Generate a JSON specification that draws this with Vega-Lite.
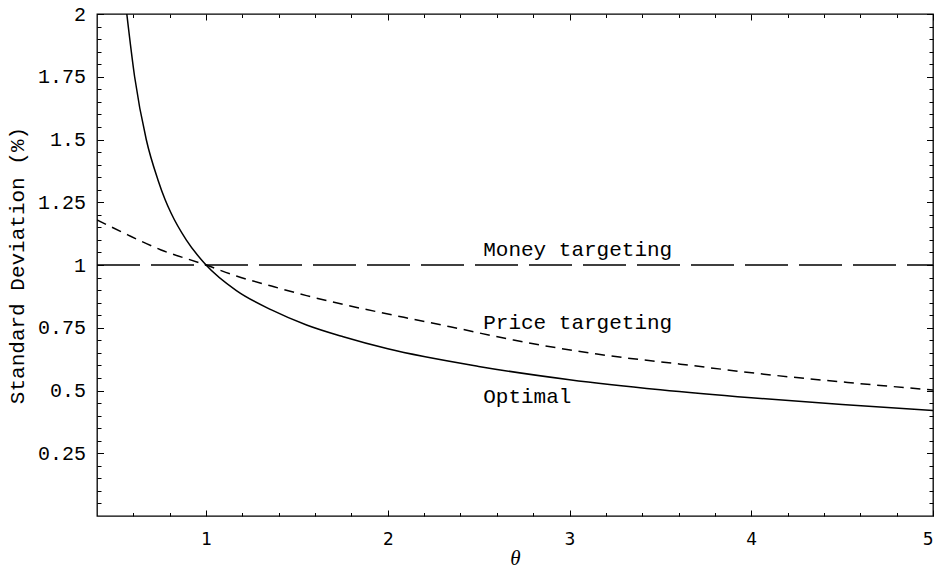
{
  "$schema": "https://vega.github.io/schema/vega-lite/v6.json",
  "autosize": {"type": "none"},
  "padding": {"left": 97, "top": 14, "right": 8, "bottom": 55},
  "width": 836,
  "height": 502,
  "background": "white",
  "config": {
    "view": {"stroke": "black", "strokeWidth": 1.3},
    "axis": {"grid": false, "domain": false, "tickColor": "black", "tickWidth": 1, "labelColor": "black", "titleColor": "black"}
  },
  "datasets": {
    "optimal": [
      {"theta": 0.564, "sd": 2.0},
      {"theta": 0.607, "sd": 1.75},
      {"theta": 0.671, "sd": 1.5},
      {"theta": 0.735, "sd": 1.34},
      {"theta": 0.775, "sd": 1.26},
      {"theta": 0.808, "sd": 1.206},
      {"theta": 0.891, "sd": 1.1},
      {"theta": 1.0, "sd": 1.0},
      {"theta": 1.167, "sd": 0.898},
      {"theta": 1.36, "sd": 0.821},
      {"theta": 1.553, "sd": 0.761},
      {"theta": 1.755, "sd": 0.714},
      {"theta": 2.0, "sd": 0.666},
      {"theta": 2.5, "sd": 0.596},
      {"theta": 3.0, "sd": 0.543},
      {"theta": 3.5, "sd": 0.503},
      {"theta": 4.0, "sd": 0.471},
      {"theta": 4.5, "sd": 0.444},
      {"theta": 5.0, "sd": 0.42}
    ],
    "price": [
      {"theta": 0.4, "sd": 1.18},
      {"theta": 0.569, "sd": 1.12},
      {"theta": 0.753, "sd": 1.06},
      {"theta": 1.0, "sd": 1.0},
      {"theta": 1.167, "sd": 0.956},
      {"theta": 1.36, "sd": 0.916},
      {"theta": 1.553, "sd": 0.878},
      {"theta": 1.755, "sd": 0.843},
      {"theta": 1.939, "sd": 0.814},
      {"theta": 2.14, "sd": 0.784},
      {"theta": 2.343, "sd": 0.754},
      {"theta": 2.692, "sd": 0.701},
      {"theta": 3.151, "sd": 0.645},
      {"theta": 3.61, "sd": 0.605},
      {"theta": 4.07, "sd": 0.565},
      {"theta": 4.53, "sd": 0.532},
      {"theta": 5.0, "sd": 0.502}
    ],
    "money": [
      {"theta": 0.4, "sd": 1.0},
      {"theta": 5.0, "sd": 1.0}
    ],
    "labels": [
      {"theta": 2.525, "sd": 1.06, "text": "Money targeting"},
      {"theta": 2.525, "sd": 0.77, "text": "Price targeting"},
      {"theta": 2.525, "sd": 0.475, "text": "Optimal"}
    ]
  },
  "resolve": {"axis": {"x": "independent", "y": "independent"}},
  "layer": [
    {
      "data": {"name": "optimal"},
      "mark": {"type": "line", "color": "black", "strokeWidth": 1.5, "clip": true, "interpolate": "monotone"},
      "encoding": {
        "x": {"field": "theta", "type": "quantitative",
          "scale": {"domain": [0.4, 5], "nice": false, "zero": false},
          "axis": {"orient": "bottom", "values": [1, 2, 3, 4, 5], "tickSize": -6, "labelPadding": 21,
            "labelFont": "DejaVu Sans", "labelFontSize": 17, "labelExpr": "datum.value + ''",
            "title": "θ", "titleFont": "Liberation Serif", "titleFontStyle": "italic", "titleFontWeight": "normal", "titleFontSize": 21,
            "titleX": 418, "titleY": 42, "titleAlign": "center", "titleBaseline": "middle"}},
        "y": {"field": "sd", "type": "quantitative",
          "scale": {"domain": [0, 2], "nice": false, "zero": false},
          "axis": {"orient": "left", "values": [0.25, 0.5, 0.75, 1, 1.25, 1.5, 1.75, 2], "tickSize": -6.5, "labelPadding": 18,
            "labelFont": "Liberation Mono", "labelFontSize": 20, "labelExpr": "datum.value + ''",
            "title": "Standard Deviation (%)", "titleFont": "Liberation Mono", "titleFontWeight": "normal", "titleFontSize": 21,
            "titleAngle": 270, "titleX": -80, "titleY": 251, "titleAlign": "center", "titleBaseline": "middle"}}
      }
    },
    {
      "data": {"name": "price"},
      "mark": {"type": "line", "color": "black", "strokeWidth": 1.5, "strokeDash": [10, 6.7], "clip": true, "interpolate": "monotone"},
      "encoding": {
        "x": {"field": "theta", "type": "quantitative",
          "axis": {"orient": "bottom", "values": [0.6, 0.8, 1.2, 1.4, 1.6, 1.8, 2.2, 2.4, 2.6, 2.8, 3.2, 3.4, 3.6, 3.8, 4.2, 4.4, 4.6, 4.8], "tickSize": -3.5, "labels": false, "title": null}},
        "y": {"field": "sd", "type": "quantitative",
          "axis": {"orient": "left", "values": [0.05, 0.1, 0.15, 0.2, 0.3, 0.35, 0.4, 0.45, 0.55, 0.6, 0.65, 0.7, 0.8, 0.85, 0.9, 0.95, 1.05, 1.1, 1.15, 1.2, 1.3, 1.35, 1.4, 1.45, 1.55, 1.6, 1.65, 1.7, 1.8, 1.85, 1.9, 1.95], "tickSize": -4, "labels": false, "title": null}}
      }
    },
    {
      "data": {"name": "money"},
      "mark": {"type": "line", "color": "black", "strokeWidth": 1.5, "strokeDash": [43, 11], "clip": true},
      "encoding": {
        "x": {"field": "theta", "type": "quantitative",
          "axis": {"orient": "top", "values": [1, 2, 3, 4, 5], "tickSize": -6, "labels": false, "title": null}},
        "y": {"field": "sd", "type": "quantitative",
          "axis": {"orient": "right", "values": [0.25, 0.5, 0.75, 1, 1.25, 1.5, 1.75, 2], "tickSize": -6.5, "labels": false, "title": null}}
      }
    },
    {
      "data": {"name": "labels"},
      "mark": {"type": "text", "color": "black", "font": "Liberation Mono", "fontSize": 21, "align": "left", "baseline": "middle"},
      "encoding": {
        "x": {"field": "theta", "type": "quantitative",
          "axis": {"orient": "top", "values": [0.6, 0.8, 1.2, 1.4, 1.6, 1.8, 2.2, 2.4, 2.6, 2.8, 3.2, 3.4, 3.6, 3.8, 4.2, 4.4, 4.6, 4.8], "tickSize": -3.5, "labels": false, "title": null}},
        "y": {"field": "sd", "type": "quantitative",
          "axis": {"orient": "right", "values": [0.05, 0.1, 0.15, 0.2, 0.3, 0.35, 0.4, 0.45, 0.55, 0.6, 0.65, 0.7, 0.8, 0.85, 0.9, 0.95, 1.05, 1.1, 1.15, 1.2, 1.3, 1.35, 1.4, 1.45, 1.55, 1.6, 1.65, 1.7, 1.8, 1.85, 1.9, 1.95], "tickSize": -4, "labels": false, "title": null}},
        "text": {"field": "text", "type": "nominal"}
      }
    }
  ]
}
